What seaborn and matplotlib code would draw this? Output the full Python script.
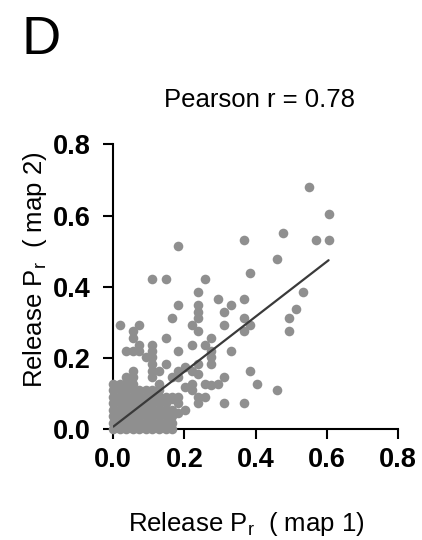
import numpy as np
import pandas as pd
import matplotlib
matplotlib.use("Agg")
import matplotlib.pyplot as plt
import seaborn as sns

# dense cluster near the origin (release Pr, map 1 vs map 2)
x_dense = [0, .018, .037, .055, .073, .092, .110, .128, .147, .165,
           0, .018, .037, .055, .073, .092, .110, .128, .147, .165,
           0, .018, .037, .055, .073, .092, .110, .128, .147, .165,
           0, .018, .037, .055, .073, .092, .110, .128, .147, .165,
           0, .018, .037, .055, .073, .092, .110, .128, .147,
           0, .018, .037, .055, .073, .092, .110, .128, .147,
           0, .018, .037, .055, .073, .092, .110, .128,
           0, .018, .037, .055]
y_dense = [0, 0, 0, 0, 0, 0, 0, 0, 0, 0,
           .018, .018, .018, .018, .018, .018, .018, .018, .018, .018,
           .037, .037, .037, .037, .037, .037, .037, .037, .037, .037,
           .055, .055, .055, .055, .055, .055, .055, .055, .055, .055,
           .073, .073, .073, .073, .073, .073, .073, .073, .073,
           .092, .092, .092, .092, .092, .092, .092, .092, .092,
           .110, .110, .110, .110, .110, .110, .110, .110,
           .128, .128, .128, .128]

# remaining points
x_spread = [.550, .605, .477, .367, .569, .605, .183, .459, .385, .110,
            .147, .257, .238, .532, .293, .367, .183, .238, .330, .514,
            .238, .312, .238, .165, .367, .495, .018, .073, .220, .312,
            .385, .055, .238, .367, .495, .055, .147, .275, .073, .110,
            .220, .257, .037, .055, .073, .110, .183, .275, .330, .092,
            .110, .275, .110, .147, .238, .275, .055, .110, .128, .183,
            .202, .220, .385, .037, .055, .110, .165, .183, .238, .312,
            .220, .257, .275, .293, .403, .202, .220, .459, .165, .183,
            .238, .257, .312, .367, .238, .165, .183, .202, .183, .128]
y_spread = [.679, .605, .550, .532, .532, .532, .514, .477, .440, .422,
            .422, .422, .385, .385, .367, .367, .348, .348, .348, .339,
            .330, .330, .312, .312, .312, .312, .293, .293, .293, .293,
            .293, .275, .275, .275, .275, .257, .257, .257, .238, .238,
            .238, .238, .220, .220, .220, .220, .220, .220, .220, .202,
            .202, .202, .183, .183, .183, .183, .165, .165, .165, .165,
            .174, .165, .165, .147, .147, .147, .147, .147, .154, .147,
            .128, .128, .123, .128, .128, .119, .110, .110, .092, .092,
            .092, .092, .073, .073, .073, .086, .073, .055, .046, .128]

# linear fit
fit_slope = 0.772
fit_intercept = 0.0075
pearson_r = 0.78

df = pd.DataFrame({"map1": x_dense + x_spread, "map2": y_dense + y_spread})

sns.set_style("ticks")
plt.rcParams["font.family"] = ["Liberation Sans", "DejaVu Sans"]
plt.rcParams["mathtext.default"] = "regular"
plt.rcParams["text.color"] = "black"
plt.rcParams["axes.labelcolor"] = "black"

fig = plt.figure(figsize=(4.22, 5.40), dpi=100)
ax = fig.add_axes([0.2685, 0.205, 0.6746, 0.5278])

sns.scatterplot(data=df, x="map1", y="map2", ax=ax, color="#8f8f8f",
                s=48, linewidth=0, alpha=1, clip_on=False, zorder=3)

fx = np.array([df["map1"].min(), df["map1"].max()])
sns.lineplot(x=fx, y=fit_intercept + fit_slope * fx, ax=ax,
             color="#3a3a3a", linewidth=1.6, zorder=4)

ax.set_xlim(0, 0.8)
ax.set_ylim(0, 0.8)
ax.set_xticks([0, 0.2, 0.4, 0.6, 0.8])
ax.set_yticks([0, 0.2, 0.4, 0.6, 0.8])
ax.set_xticklabels(["0.0", "0.2", "0.4", "0.6", "0.8"])
ax.set_yticklabels(["0.0", "0.2", "0.4", "0.6", "0.8"])
sns.despine(ax=ax)
for s in ["left", "bottom"]:
    ax.spines[s].set_linewidth(1.5)
    ax.spines[s].set_color("black")
ax.tick_params(length=7, width=1.5, color="black", labelcolor="black",
               labelsize=19.5)
ax.tick_params(axis="x", pad=6)
ax.tick_params(axis="y", pad=9)
for lab in ax.get_xticklabels() + ax.get_yticklabels():
    lab.set_fontweight("bold")

ax.set_title(f"Pearson r = {pearson_r:.2f}", fontsize=18.5, pad=27, x=0.515)
ax.set_xlabel("Release P$_{r}$  ( map 1)", fontsize=18.5)
ax.set_ylabel("Release P$_{r}$  ( map 2)", fontsize=18.5)
ax.xaxis.label.set_va("baseline")
ax.yaxis.label.set_va("baseline")
ax.xaxis.set_label_coords(0.466, -0.356)
ax.yaxis.set_label_coords(-0.2515, 0.559)

fig.text(0.052, 0.9, "D", fontsize=39, va="baseline")

fig.savefig("out.png", dpi=100)
